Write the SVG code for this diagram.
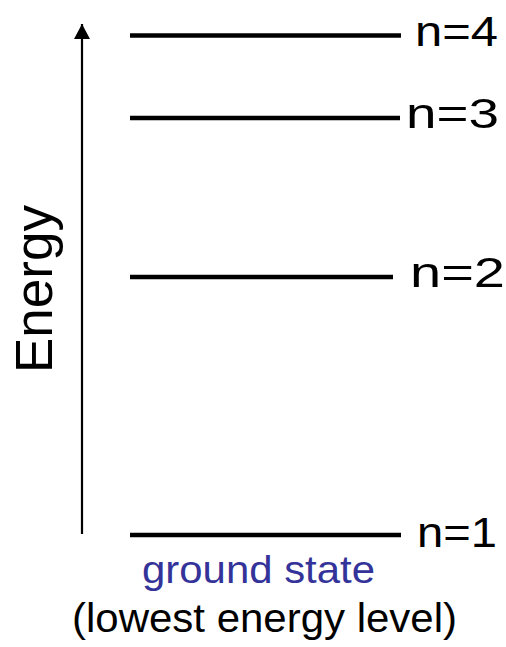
<svg xmlns="http://www.w3.org/2000/svg" width="506" height="647" viewBox="0 0 506 647">
<style>
.lvl{stroke:#000;stroke-width:4.5;fill:none}
.lbl{font-family:"Liberation Sans",Arial,sans-serif;font-size:43px;fill:#000}
.axis{stroke:#000;stroke-width:2.2;fill:none}
</style>
<defs>
<marker id="ah" markerUnits="userSpaceOnUse" markerWidth="16" markerHeight="16" refX="15" refY="8" orient="auto">
<path d="M0,0 L15,8 L0,16 Z" fill="#000"/>
</marker>
</defs>
<rect width="506" height="647" fill="#fff"/>
<g id="connectors">
<line class="axis" x1="82" y1="534" x2="82" y2="24" marker-end="url(#ah)"/>
</g>
<g id="axis-label">
<text class="lbl" style="font-size:51px" transform="translate(52,373) rotate(-90)" textLength="168" lengthAdjust="spacingAndGlyphs">Energy</text>
</g>
<g id="n4">
<line class="lvl" x1="130" y1="35.5" x2="401" y2="35.5"/>
<text class="lbl" x="415" y="46" textLength="83" lengthAdjust="spacingAndGlyphs">n=4</text>
</g>
<g id="n3">
<line class="lvl" x1="130" y1="118" x2="400" y2="118"/>
<text class="lbl" x="406" y="128" textLength="93" lengthAdjust="spacingAndGlyphs">n=3</text>
</g>
<g id="n2">
<line class="lvl" x1="130" y1="277" x2="393" y2="277"/>
<text class="lbl" x="410" y="287" textLength="95" lengthAdjust="spacingAndGlyphs">n=2</text>
</g>
<g id="n1">
<line class="lvl" x1="130" y1="535" x2="401" y2="535"/>
<text class="lbl" x="417" y="547" textLength="80" lengthAdjust="spacingAndGlyphs">n=1</text>
<text class="lbl" style="font-size:38px;fill:#333399" x="142" y="583" textLength="233" lengthAdjust="spacingAndGlyphs">ground state</text>
<text class="lbl" style="font-size:40px" x="72" y="632" textLength="385" lengthAdjust="spacingAndGlyphs">(lowest energy level)</text>
</g>
</svg>
